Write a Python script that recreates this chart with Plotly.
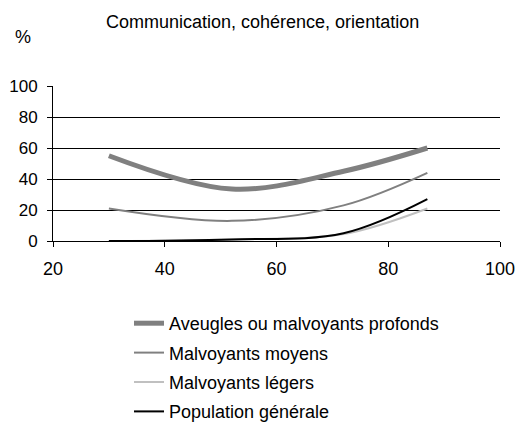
import plotly.graph_objects as go

ages = [30, 52, 72, 87]
aveugles = [55, 33.5, 45, 60]
moyens = [21, 13, 23, 44]
legers = [0, 1, 4.5, 21]
population = [0, 1, 5, 27]

series = [
    ("Aveugles ou malvoyants profonds", aveugles, "#808080", 5),
    ("Malvoyants moyens", moyens, "#808080", 2),
    ("Malvoyants légers", legers, "#C0C0C0", 2),
    ("Population générale", population, "#000000", 2),
]

FAM = "Liberation Sans, Arial, sans-serif"
W, H = 518, 423

fig = go.Figure()
for i, (name, vals, color, w) in enumerate(series):
    fig.add_trace(go.Scatter(
        x=ages, y=vals, name=name, mode="lines",
        line=dict(color=color, width=w, shape="spline", smoothing=1.0),
        legendgroup=str(i),
    ))

fig.update_layout(
    width=W, height=H,
    margin=dict(l=53, r=18, t=86, b=182, autoexpand=False),
    paper_bgcolor="white", plot_bgcolor="white",
    font=dict(family=FAM, size=18, color="#000"),
    showlegend=True,
    legend=dict(
        xref="container", yref="container",
        x=129 / W, y=1 - 305 / H, xanchor="left", yanchor="top",
        font=dict(family=FAM, size=18, color="#000"),
        tracegroupgap=3, itemwidth=30, bgcolor="rgba(0,0,0,0)",
    ),
    annotations=[
        dict(text="Communication, cohérence, orientation", xref="paper", yref="paper",
             x=(262 - 53) / 447, y=(241 - 22) / 155, xanchor="center", yanchor="middle",
             showarrow=False, font=dict(family=FAM, size=18)),
        dict(text="%", xref="paper", yref="paper",
             x=(23 - 53) / 447, y=(241 - 37) / 155, xanchor="center", yanchor="middle",
             showarrow=False, font=dict(family=FAM, size=18)),
    ],
)
fig.update_xaxes(
    range=[20, 100], tickvals=[20, 40, 60, 80, 100], showgrid=False,
    showline=True, linecolor="#000", linewidth=1, ticks="outside", ticklen=5,
    tickcolor="#000", zeroline=False, tickfont=dict(family=FAM, size=18),
    ticklabelstandoff=6, automargin=False,
)
fig.update_yaxes(
    range=[0, 100], tickvals=[0, 20, 40, 60, 80, 100], showgrid=True,
    gridcolor="#000", gridwidth=1, showline=True, linecolor="#000", linewidth=1,
    ticks="outside", ticklen=5, tickcolor="#000", zeroline=False,
    tickfont=dict(family=FAM, size=17), ticklabelstandoff=6, automargin=False,
)
fig.write_html(
    "out.html",
    config={"displayModeBar": False},
    post_script="document.body.style.margin='0';document.body.style.overflow='hidden';",
)
